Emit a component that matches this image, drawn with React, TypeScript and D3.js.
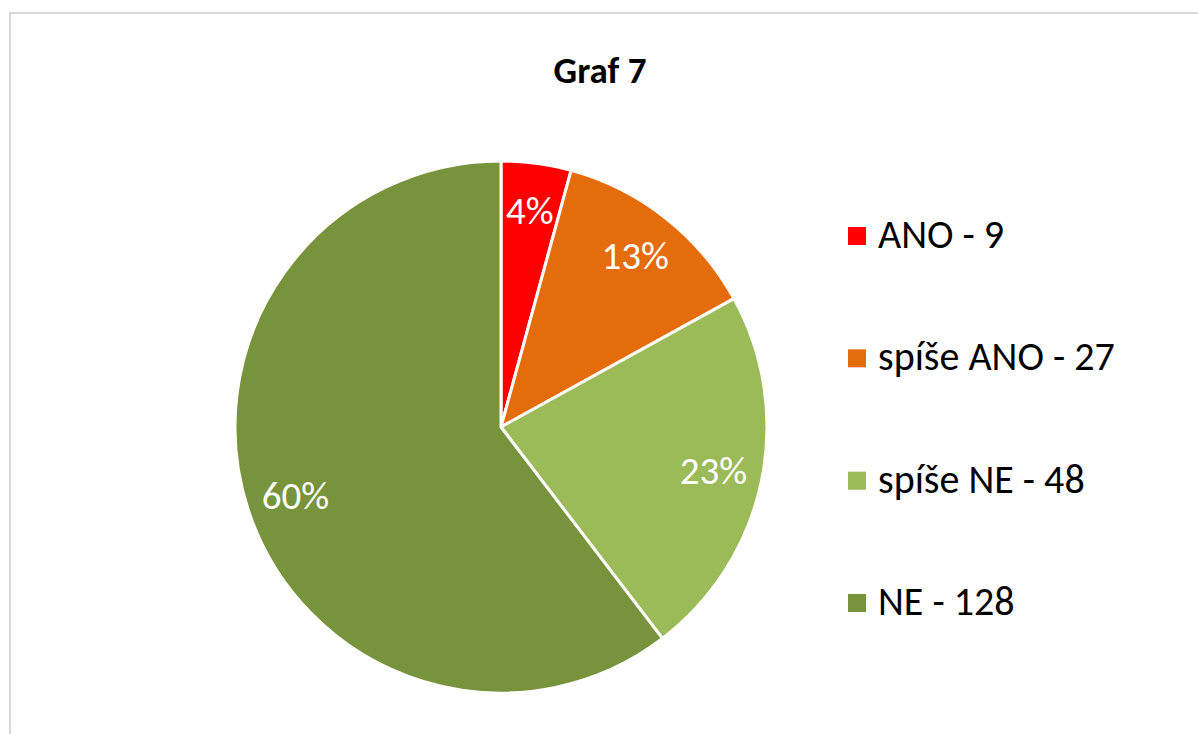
import React from 'react'
import * as d3 from 'd3'

// odpovedi a pocty
const categories = ['ANO', 'spíše ANO', 'spíše NE', 'NE']
const counts = [9, 27, 48, 128]
const colors = ['#ff0000', '#e46c0a', '#9bbb59', '#77933c']

const W = 1198
const H = 734
const cx = 501
const cy = 427
const R = 266
const FONT = "Carlito, Calibri, 'Open Sans', sans-serif"

export default function App() {
  const total = d3.sum(counts)
  const pie = d3.pie<number>().sort(null).value(d => d)
  const arcs = pie(counts)
  const arc = d3.arc<d3.PieArcDatum<number>>().innerRadius(0).outerRadius(R)
  const labelArc = d3.arc<d3.PieArcDatum<number>>().innerRadius(217).outerRadius(217)

  const legendY = d3.scalePoint<string>().domain(categories).range([248, 615])

  return (
    <svg width={W} height={H} style={{position: 'absolute', left: 0, top: 0}}>
      <rect x={0} y={0} width={W} height={H} fill="#fff" />
      <path d={`M10,${H} L10,13 L${W},13`} fill="none" stroke="#d9d9d9" strokeWidth={2} />
      <text x={600} y={83} textAnchor="middle" fontFamily={FONT} fontWeight="bold" fontSize={37} fill="#000">
        Graf 7
      </text>
      <g transform={`translate(${cx},${cy})`}>
        {arcs.map((a, i) => (
          <path key={i} d={arc(a) || ''} fill={colors[i]} stroke="#fff" strokeWidth={3} strokeLinejoin="round" />
        ))}
        {arcs.map((a, i) => {
          const [lx, ly] = labelArc.centroid(a)
          return (
            <text key={'l' + i} x={lx} y={ly} dy="0.32em" textAnchor="middle" fontFamily={FONT} fontSize={39} fill="#fff">
              {Math.round((counts[i] / total) * 100) + '%'}
            </text>
          )
        })}
      </g>
      {categories.map((c, i) => (
        <g key={c} transform={`translate(848,${legendY(c)})`}>
          <rect x={0} y={-21} width={18} height={18} fill={colors[i]} />
          <text x={30} y={0} fontFamily={FONT} fontSize={40} fill="#000">
            {c + ' - ' + counts[i]}
          </text>
        </g>
      ))}
    </svg>
  )
}
